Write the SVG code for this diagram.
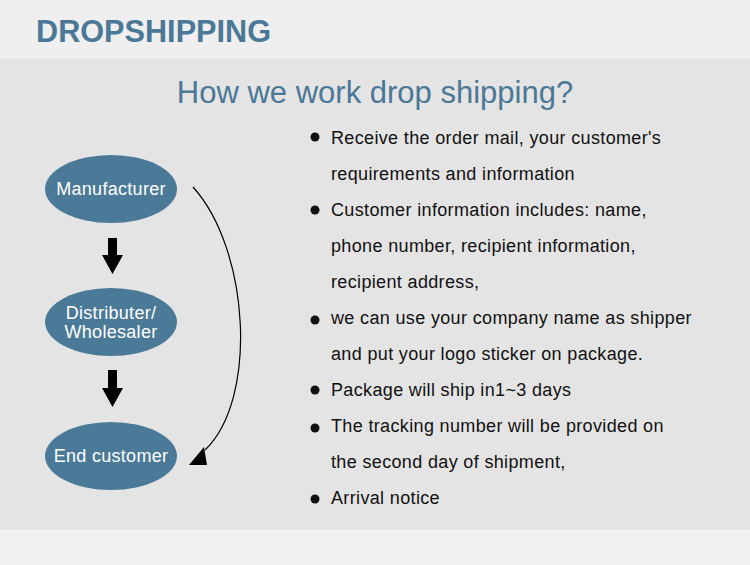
<svg xmlns="http://www.w3.org/2000/svg" width="750" height="565" viewBox="0 0 750 565">
<style>
.node{fill:#4b7a98}
.nt{font-family:"Liberation Sans",Arial,sans-serif;font-size:18px;letter-spacing:0.3px;fill:#fff;text-anchor:middle}
.bt{font-family:"Liberation Sans",Arial,sans-serif;font-size:18px;letter-spacing:0.35px;fill:#111}
.head{font-family:"Liberation Sans",Arial,sans-serif;fill:#4a7896}
</style>
<rect x="0" y="0" width="750" height="59" fill="#efefef"/>
<rect x="0" y="59" width="750" height="471" fill="#e4e4e4"/>
<rect x="0" y="530" width="750" height="35" fill="#f0f0f0"/>
<text class="head" x="36" y="42" font-size="31" font-weight="bold" textLength="235" lengthAdjust="spacingAndGlyphs">DROPSHIPPING</text>
<text class="head" x="375" y="103" font-size="31" text-anchor="middle">How we work drop shipping?</text>

<g id="manufacturer">
<ellipse class="node" cx="111" cy="189" rx="66" ry="34"/>
<text class="nt" x="111" y="195">Manufacturer</text>
</g>
<g id="distributer">
<ellipse class="node" cx="111" cy="322" rx="66" ry="34"/>
<text class="nt" x="111" y="319">Distributer/</text>
<text class="nt" x="111" y="338">Wholesaler</text>
</g>
<g id="end-customer">
<ellipse class="node" cx="111" cy="456" rx="66" ry="34"/>
<text class="nt" x="111" y="462">End customer</text>
</g>

<g id="connectors">
<polygon points="108,238 117,238 117,255 123,255 112.5,274 102,255 108,255" fill="#000"/>
<polygon points="108,370 117,370 117,388 123,388 112.5,407 102,388 108,388" fill="#000"/>
<path d="M193,187 C250,250 258,400 205,450" fill="none" stroke="#000" stroke-width="1.2"/>
<polygon points="189,465 207,465 204,447" fill="#000"/>
</g>

<g id="list">
<circle cx="315" cy="137" r="4.5" fill="#111"/>
<text class="bt" x="331" y="144">Receive the order mail, your customer's</text>
<text class="bt" x="331" y="180">requirements and information</text>
<circle cx="315" cy="210" r="4.5" fill="#111"/>
<text class="bt" x="331" y="216">Customer information includes: name,</text>
<text class="bt" x="331" y="252">phone number, recipient information,</text>
<text class="bt" x="331" y="288">recipient address,</text>
<circle cx="315" cy="320" r="4.5" fill="#111"/>
<text class="bt" x="331" y="324">we can use your company name as shipper</text>
<text class="bt" x="331" y="360">and put your logo sticker on package.</text>
<circle cx="315" cy="390" r="4.5" fill="#111"/>
<text class="bt" x="331" y="396">Package will ship in1~3 days</text>
<circle cx="315" cy="428" r="4.5" fill="#111"/>
<text class="bt" x="331" y="432">The tracking number will be provided on</text>
<text class="bt" x="331" y="468">the second day of shipment,</text>
<circle cx="315" cy="499" r="4.5" fill="#111"/>
<text class="bt" x="331" y="504">Arrival notice</text>
</g>
</svg>
